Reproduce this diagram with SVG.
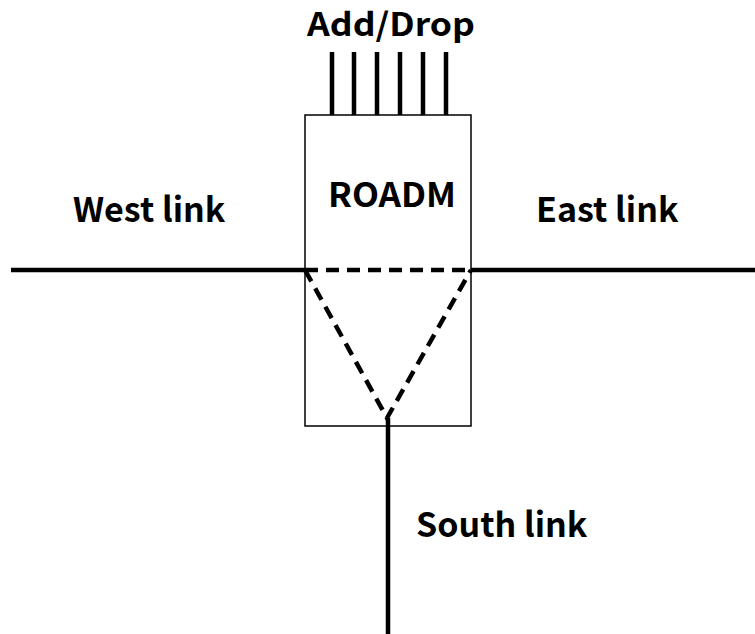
<svg xmlns="http://www.w3.org/2000/svg" width="755" height="634" viewBox="0 0 755 634">
  <style>
    .lbl { font-family: "Noto Sans CJK JP", "Noto Sans", sans-serif; font-weight: bold; font-size: 34px; fill: #000; }
    .small { font-size: 32px; }
    .solid { stroke: #000; stroke-width: 4.5; fill: none; }
    .dash { stroke: #000; stroke-width: 4.5; fill: none; stroke-dasharray: 13 8; }
    .box { stroke: #000; stroke-width: 1.5; fill: #fff; }
  </style>
  <rect width="755" height="634" fill="#fff"/>
  <g id="roadm">
    <rect class="box" x="305" y="115" width="166" height="311"/>
    <text class="lbl" x="392" y="207" text-anchor="middle" textLength="128" lengthAdjust="spacingAndGlyphs">ROADM</text>
  </g>
  <g id="add-drop">
    <text class="lbl small" x="391" y="36" text-anchor="middle" textLength="168" lengthAdjust="spacingAndGlyphs">Add/Drop</text>
  </g>
  <g id="west-link">
    <text class="lbl" x="73" y="222">West link</text>
  </g>
  <g id="east-link">
    <text class="lbl" x="536" y="222">East link</text>
  </g>
  <g id="south-link">
    <text class="lbl" x="416" y="537">South link</text>
  </g>
  <g id="connectors">
    <path class="solid" d="M332 52V115M354 52V115M377 52V115M400 52V115M423 52V115M446 52V115"/>
    <path class="solid" d="M11 270H305M471 270H755"/>
    <path class="dash" d="M305 270H471"/>
    <path class="dash" d="M305 270L387 418L471 270"/>
    <path class="solid" d="M388 418V634"/>
  </g>
</svg>
